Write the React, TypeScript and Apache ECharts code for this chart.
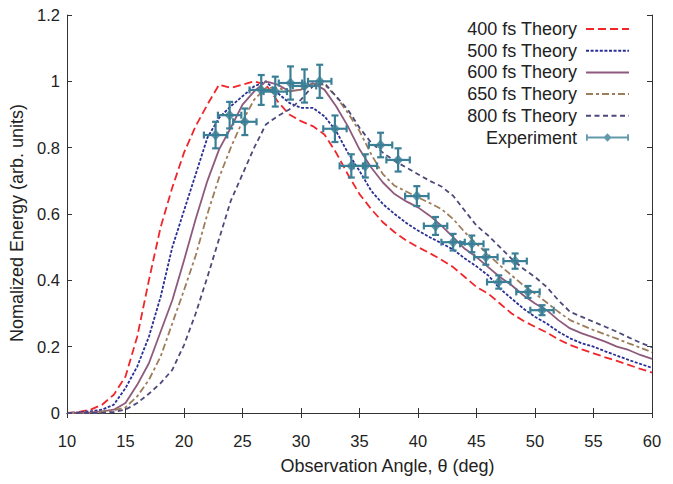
import React, { useEffect, useRef } from "react";
import * as echarts from "echarts";

const angles = [10, 11, 12, 13, 14, 15, 16, 17, 18, 19, 20, 21, 22, 23, 24, 25, 26, 27, 28, 29, 30, 31, 32, 33, 34, 35, 36, 37, 38, 39, 40, 41, 42, 43, 44, 45, 46, 47, 48, 49, 50, 51, 52, 53, 54, 55, 56, 57, 58, 59, 60];

const theory400 = [0, 0.003, 0.01, 0.025, 0.055, 0.11, 0.23, 0.4, 0.56, 0.68, 0.785, 0.865, 0.93, 0.99, 0.98, 0.99, 1.0, 0.99, 0.94, 0.9, 0.88, 0.865, 0.84, 0.785, 0.72, 0.66, 0.615, 0.575, 0.545, 0.52, 0.5, 0.482, 0.462, 0.44, 0.41, 0.38, 0.36, 0.33, 0.3, 0.278, 0.26, 0.243, 0.222, 0.205, 0.192, 0.18, 0.168, 0.157, 0.145, 0.133, 0.122];
const theory500 = [0, 0.002, 0.005, 0.01, 0.025, 0.075, 0.14, 0.23, 0.35, 0.5, 0.61, 0.72, 0.83, 0.89, 0.925, 0.955, 0.985, 1.0, 0.965, 0.935, 0.92, 0.92, 0.895, 0.85, 0.785, 0.73, 0.67, 0.63, 0.6, 0.573, 0.55, 0.53, 0.512, 0.493, 0.466, 0.442, 0.415, 0.375, 0.345, 0.315, 0.29, 0.27, 0.245, 0.225, 0.21, 0.2, 0.186, 0.173, 0.16, 0.148, 0.136];
const theory600 = [0, 0, 0.002, 0.005, 0.01, 0.03, 0.085, 0.15, 0.245, 0.34, 0.46, 0.585, 0.7, 0.795, 0.86, 0.93, 0.97, 1.0, 0.99, 0.97, 0.975, 0.995, 0.975, 0.925, 0.865, 0.795, 0.74, 0.695, 0.66, 0.638, 0.62, 0.595, 0.565, 0.53, 0.495, 0.47, 0.44, 0.41, 0.385, 0.355, 0.33, 0.31, 0.28, 0.255, 0.24, 0.228, 0.215, 0.2, 0.19, 0.175, 0.163];
const theory650 = [0, 0, 0, 0.003, 0.008, 0.017, 0.05, 0.1, 0.17, 0.27, 0.37, 0.475, 0.6, 0.71, 0.8, 0.88, 0.945, 0.98, 0.98, 0.97, 0.975, 0.99, 0.99, 0.955, 0.905, 0.85, 0.78, 0.72, 0.685, 0.668, 0.65, 0.633, 0.615, 0.585, 0.545, 0.51, 0.478, 0.445, 0.415, 0.385, 0.36, 0.333, 0.305, 0.28, 0.265, 0.25, 0.237, 0.224, 0.21, 0.197, 0.183];
const theory800 = [0, 0, 0, 0, 0.003, 0.01, 0.03, 0.058, 0.09, 0.13, 0.205, 0.3, 0.41, 0.525, 0.64, 0.72, 0.8, 0.87, 0.895, 0.915, 0.945, 0.985, 0.995, 0.955, 0.915, 0.86, 0.815, 0.785, 0.76, 0.74, 0.72, 0.7, 0.683, 0.655, 0.61, 0.565, 0.535, 0.5, 0.465, 0.435, 0.41, 0.38, 0.34, 0.305, 0.29, 0.275, 0.26, 0.245, 0.228, 0.212, 0.198];

const expAngle = [22.7, 23.9, 25.2, 26.6, 27.8, 29.1, 30.3, 31.6, 32.9, 34.3, 35.5, 36.8, 38.3, 39.9, 41.5, 43.0, 44.6, 45.8, 46.9, 48.3, 49.4, 50.6];
const expEnergy = [0.838, 0.898, 0.878, 0.974, 0.969, 0.995, 0.986, 1.0, 0.857, 0.745, 0.745, 0.808, 0.763, 0.654, 0.564, 0.515, 0.51, 0.47, 0.395, 0.458, 0.365, 0.31];
const angleErr = [1, 1, 1, 1, 1, 1, 1, 1, 1, 1, 1, 1, 1, 1, 1, 1, 1, 1, 1, 1, 1, 1];
const energyErr = [0.04, 0.04, 0.04, 0.045, 0.045, 0.05, 0.05, 0.05, 0.04, 0.035, 0.035, 0.037, 0.035, 0.03, 0.027, 0.025, 0.025, 0.023, 0.02, 0.023, 0.018, 0.015];

const xTicks = { min: 10, max: 60, interval: 5 };
const yTicks = { min: 0, max: 1.2, interval: 0.2 };

const FONT = "'Liberation Sans', Arial, sans-serif";
const EXP_COLOR = "#3b7f96";
const TEXT = "#222";

const theorySeries = [
  { name: "400 fs Theory", data: theory400, color: "#f0262b", type: [8, 4] },
  { name: "500 fs Theory", data: theory500, color: "#2a2f96", type: [3, 1.6] },
  { name: "600 fs Theory", data: theory600, color: "#8e5a7c", type: "solid" },
  { name: "650 fs Theory", data: theory650, color: "#9d7d5a", type: [7, 3, 3, 3] },
  { name: "800 fs Theory", data: theory800, color: "#4b4a7a", type: [5, 3.5] },
];

const expIcon =
  "path://M0,1.8H1.8V3.9H18.4L21.5,0.8L24.6,3.9H41.2V1.8H43V8.2H41.2V6.1H24.6L21.5,9.2L18.4,6.1H1.8V8.2H0Z";

export default function App() {
  const ref = useRef<HTMLDivElement>(null);
  useEffect(() => {
    if (!ref.current) return;
    const chart = echarts.init(ref.current, null, { renderer: "svg" });
    const axisLine = { show: true, lineStyle: { color: "#333", width: 1 } };
    const tick = { show: true, inside: true, length: 5, lineStyle: { color: "#333" } };
    const option: any = {
      animation: false,
      backgroundColor: "#fff",
      textStyle: { fontFamily: FONT },
      grid: { left: 67, right: 21, top: 15, bottom: 71, containLabel: false },
      legend: {
        orient: "vertical",
        align: "right",
        right: 38,
        top: 15,
        itemWidth: 43,
        itemHeight: 10,
        itemGap: 3.7,
        textStyle: { fontFamily: FONT, fontSize: 18, color: TEXT, lineHeight: 18, padding: [0, 4, 0, 0] },
        data: [
          ...theorySeries.map((s) => ({ name: s.name, itemStyle: { opacity: 0 } })),
          { name: "Experiment", icon: expIcon },
        ],
      },
      xAxis: [
        {
          type: "value",
          ...xTicks,
          position: "bottom",
          axisLine,
          axisTick: tick,
          splitLine: { show: false },
          axisLabel: { fontFamily: FONT, fontSize: 16.5, color: TEXT, margin: 19 },
          name: "Observation Angle, \u03b8 (deg)",
          nameLocation: "middle",
          nameGap: 44,
          nameTextStyle: { fontFamily: FONT, fontSize: 18, color: TEXT, padding: [0, 0, 0, 56] },
        },
        {
          type: "value",
          ...xTicks,
          position: "top",
          axisLine,
          axisTick: tick,
          splitLine: { show: false },
          axisLabel: { show: false },
        },
      ],
      yAxis: [
        {
          type: "value",
          ...yTicks,
          position: "left",
          axisLine,
          axisTick: tick,
          splitLine: { show: false },
          axisLabel: {
            fontFamily: FONT,
            fontSize: 16.5,
            color: TEXT,
            margin: 7,
            formatter: (v: number) => String(Math.round(v * 10) / 10),
          },
          name: "Nomalized Energy (arb. units)",
          nameLocation: "middle",
          nameGap: 38,
          nameTextStyle: { fontFamily: FONT, fontSize: 18, color: TEXT, padding: [0, 18, 0, 0] },
        },
        {
          type: "value",
          ...yTicks,
          position: "right",
          axisLine,
          axisTick: tick,
          splitLine: { show: false },
          axisLabel: { show: false },
        },
      ],
      series: [
        ...theorySeries.map((s) => ({
          name: s.name,
          type: "line",
          xAxisIndex: 0,
          yAxisIndex: 0,
          symbol: "none",
          color: s.color,
          lineStyle: { color: s.color, width: 1.8, type: s.type },
          data: angles.map((a, i) => [a, s.data[i]]),
          z: 2,
        })),
        {
          name: "Experiment errors",
          type: "custom",
          xAxisIndex: 0,
          yAxisIndex: 0,
          z: 3,
          data: expAngle.map((a, i) => [a, expEnergy[i], angleErr[i], energyErr[i]]),
          renderItem: (params: any, api: any) => {
            const x = api.value(0);
            const y = api.value(1);
            const xe = api.value(2);
            const ye = api.value(3);
            const l = api.coord([x - xe, y]);
            const r = api.coord([x + xe, y]);
            const t = api.coord([x, y + ye]);
            const b = api.coord([x, y - ye]);
            const c = 3.5;
            const st = { stroke: EXP_COLOR, lineWidth: 2.2 };
            const ln = (x1: number, y1: number, x2: number, y2: number) => ({
              type: "line",
              shape: { x1, y1, x2, y2 },
              style: st,
            });
            return {
              type: "group",
              children: [
                ln(l[0], l[1], r[0], r[1]),
                ln(t[0], t[1], b[0], b[1]),
                ln(l[0], l[1] - c, l[0], l[1] + c),
                ln(r[0], r[1] - c, r[0], r[1] + c),
                ln(t[0] - c, t[1], t[0] + c, t[1]),
                ln(b[0] - c, b[1], b[0] + c, b[1]),
              ],
            };
          },
        },
        {
          name: "Experiment",
          type: "scatter",
          xAxisIndex: 0,
          yAxisIndex: 0,
          symbol: "diamond",
          symbolSize: [10, 11],
          color: EXP_COLOR,
          itemStyle: { color: EXP_COLOR },
          z: 4,
          data: expAngle.map((a, i) => [a, expEnergy[i]]),
        },
      ],
    };
    chart.setOption(option);
    return () => chart.dispose();
  }, []);
  return <div ref={ref} style={{ width: 673, height: 484, margin: -8 }} />;
}
